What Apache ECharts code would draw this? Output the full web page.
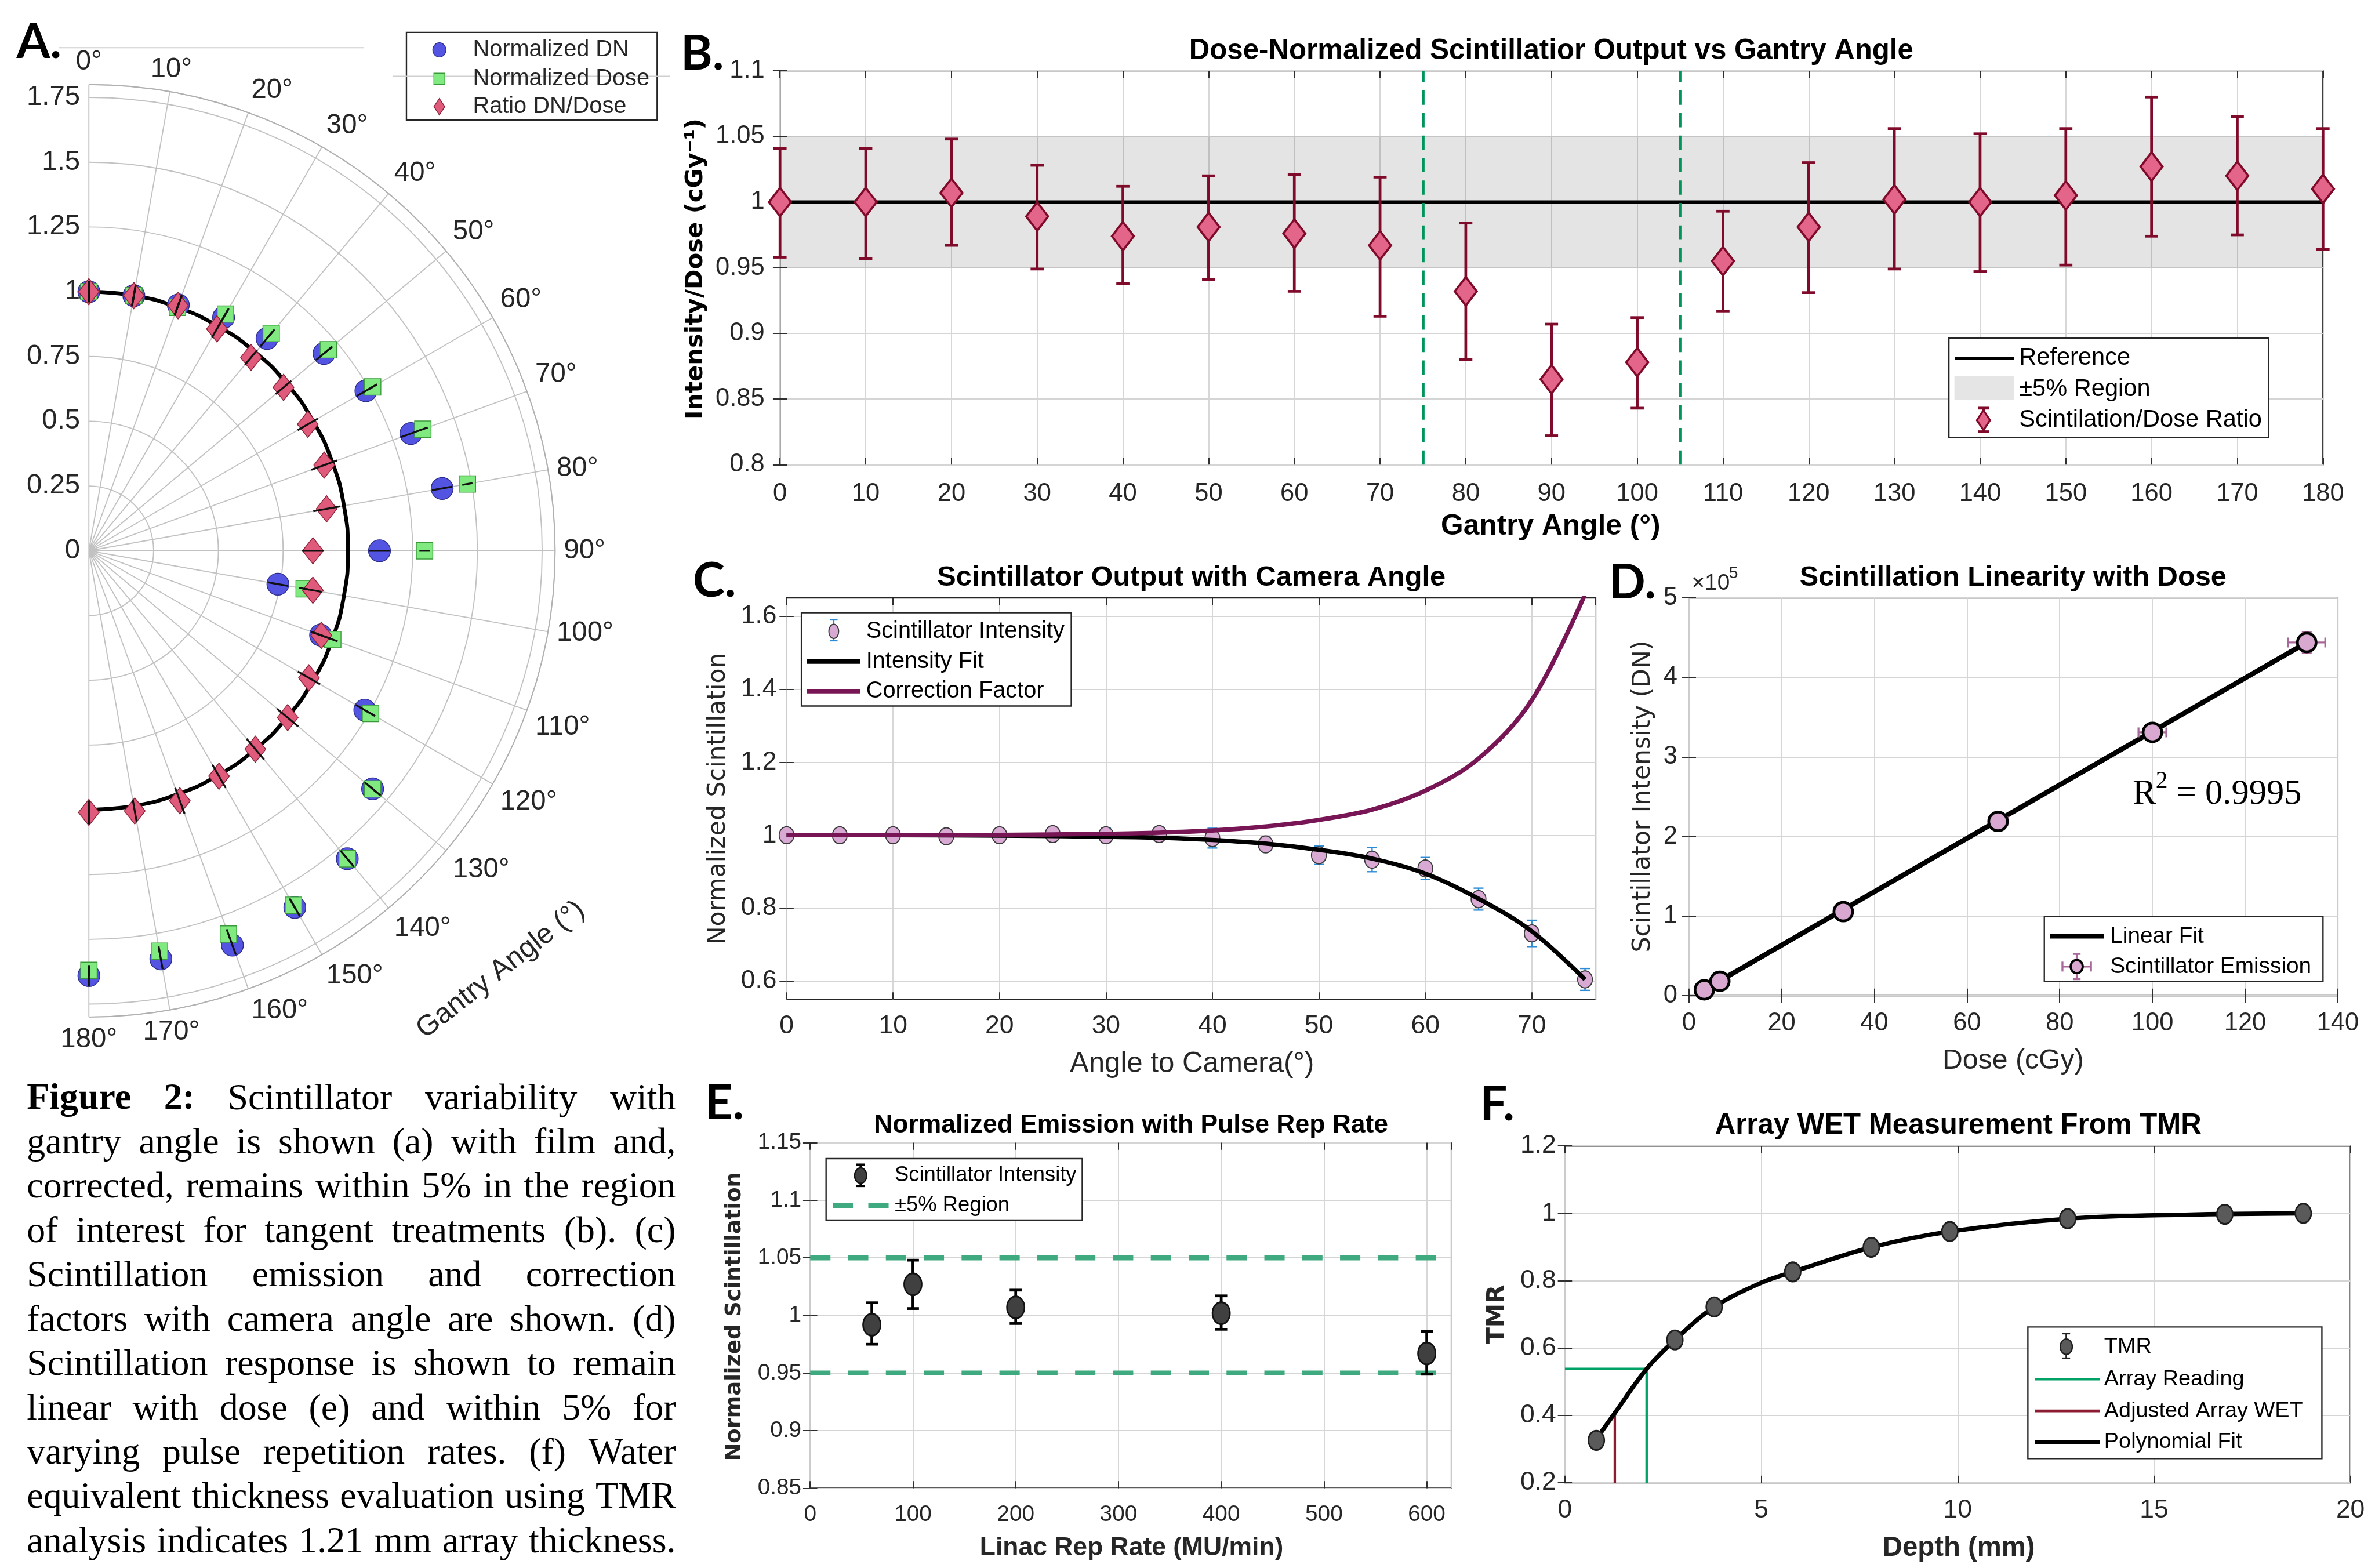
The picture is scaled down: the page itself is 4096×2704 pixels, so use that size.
<!DOCTYPE html>
<html>
<head>
<meta charset="utf-8">
<title>Figure 2</title>
<script src="https://cdn.jsdelivr.net/npm/echarts@6/dist/echarts.min.js"></script>
<style>
  html, body { margin: 0; padding: 0; background: #fff; }
  #fig { width: 4096px; height: 2704px; }
</style>
</head>
<body>
<div id="fig"></div>
<script>
// reference is 4329 x 2858, page is 4096 x 2704 -> everything scaled by S
const S = 0.946;
const s = v => v * S;
const FONT = '"Liberation Sans", Arial, sans-serif';
const VFONT = '"DejaVu Sans", Verdana, sans-serif';
const SERIF = '"Liberation Serif", "Times New Roman", serif';
const INK = '#262626';

// ---- A. polar, gantry angle
const gantryAngles = [0, 10, 20, 30, 40, 50, 60, 70, 80, 90, 100, 110, 120, 130, 140, 150, 160, 170, 180];
const normalizedDN = [1.0, 1.0, 1.01, 1.04, 1.07, 1.185, 1.235, 1.323, 1.385, 1.122, 0.741, 0.952, 1.23, 1.43, 1.552, 1.59, 1.62, 1.60, 1.64];
const normalizedDose = [1.0, 1.0, 1.0, 1.055, 1.095, 1.207, 1.265, 1.372, 1.484, 1.296, 0.844, 1.002, 1.256, 1.43, 1.552, 1.58, 1.575, 1.57, 1.62];
const polarErr = 0.04;
const unityRadius = 1;

// ---- B. ratio vs gantry angle (same ratio as in A)
const ratioDNDose = [1.0, 1.0, 1.007, 0.989, 0.974, 0.981, 0.976, 0.967, 0.932, 0.865, 0.878, 0.955, 0.981, 1.002, 1.0, 1.005, 1.027, 1.020, 1.010];
const ratioLow = [0.958, 0.957, 0.967, 0.949, 0.938, 0.941, 0.932, 0.913, 0.880, 0.822, 0.843, 0.917, 0.931, 0.949, 0.947, 0.952, 0.974, 0.975, 0.964];
const ratioHigh = [1.041, 1.041, 1.048, 1.028, 1.012, 1.020, 1.021, 1.019, 0.984, 0.907, 0.912, 0.993, 1.030, 1.056, 1.052, 1.056, 1.080, 1.065, 1.056];
const refAngle = [0, 180];
const refLevel = [1, 1];
const bandB = [0.95, 1.05];
const tangentRegion = [75, 105];

// ---- C. camera angle
const cameraAngles = [0, 5, 10, 15, 20, 25, 30, 35, 40, 45, 50, 55, 60, 65, 70, 75];
const scintIntensity = [1.0, 1.0, 1.0, 0.997, 1.0, 1.003, 1.0, 1.003, 0.992, 0.975, 0.945, 0.933, 0.909, 0.825, 0.731, 0.605];
const scintErr = [0.017, 0.017, 0.015, 0.017, 0.015, 0.017, 0.02, 0.017, 0.027, 0.02, 0.025, 0.033, 0.03, 0.03, 0.036, 0.03];
const fitAngles = [0, 10, 20, 30, 35, 40, 45, 50, 55, 60, 65, 70, 75];
const intensityFit = [1.0, 1.0, 0.999, 0.996, 0.993, 0.987, 0.977, 0.960, 0.936, 0.895, 0.826, 0.737, 0.605];
const correctionFactor = [1.0, 1.0, 1.001, 1.004, 1.007, 1.013, 1.024, 1.042, 1.07, 1.122, 1.21, 1.37, 1.66];
const cTicks = [0.6, 0.8, 1, 1.2, 1.4, 1.6];

// ---- D. linearity with dose
const doseCGy = [3.33, 6.67, 33.3, 66.7, 100, 133.3];
const emissionDN = [7300, 18000, 105600, 219000, 331000, 444000];
const doseErr = [0.3, 0.5, 1.2, 2.0, 3.0, 4.0];
const emissionErr = [1500, 2500, 4000, 6000, 9000, 13000];
const fitDose = [3.33, 133.3];
const fitDN = [7500, 444000];

// ---- E. pulse rep rate
const repRates = [60, 100, 200, 400, 600];
const repIntensity = [0.992, 1.027, 1.007, 1.002, 0.967];
const repLow = [0.975, 1.006, 0.993, 0.988, 0.949];
const repHigh = [1.011, 1.048, 1.022, 1.017, 0.986];
const regionX = [0, 624];
const regionBounds = [0.95, 1.05];

// ---- F. TMR
const depthMM = [0.8, 2.8, 3.8, 5.8, 7.8, 9.8, 12.8, 16.8, 18.8];
const tmr = [0.326, 0.624, 0.722, 0.826, 0.899, 0.946, 0.984, 0.997, 1.0];
const tmrErr = 0.012;
const fitDepth = [0.8, 1.27, 2.08, 2.8, 3.8, 5.0, 5.8, 7.8, 9.8, 12.8, 15.8, 18.8];
const fitTMR = [0.33, 0.407, 0.538, 0.624, 0.722, 0.794, 0.826, 0.899, 0.946, 0.984, 0.996, 1.0];
const readingDepth = [0, 2.08, 2.08];
const readingTMR = [0.538, 0.538, 0.2];
const adjustedDepth = [1.27, 1.27];
const adjustedTMR = [0.407, 0.2];

// ---- caption
const captionLines = [
  'Figure 2: Scintillator variability with',
  'gantry angle is shown (a) with film and,',
  'corrected, remains within 5% in the region',
  'of interest for tangent treatments (b). (c)',
  'Scintillation emission and correction',
  'factors with camera angle are shown. (d)',
  'Scintillation response is shown to remain',
  'linear with dose (e) and within 5% for',
  'varying pulse repetition rates. (f) Water',
  'equivalent thickness evaluation using TMR',
  'analysis indicates 1.21 mm array thickness.'
];
const captionBoldWords = 2;

// panel boxes in reference pixels
const panels = [
  { l: 1422, t: 129, r: 4235, b: 847,
    x: { min: 0, max: 180, interval: 10, fs: 46, m: 30 },
    y: { min: 0.8, max: 1.1, interval: 0.05, fs: 46, m: 28 } },
  { l: 1434, t: 1090, r: 2909, b: 1822,
    x: { min: 0, max: 76, interval: 10, fs: 47, m: 26, hideMax: true },
    y: { min: 0.55, max: 1.65, custom: cTicks, fs: 47, m: 18 } },
  { l: 3079, t: 1090, r: 4262, b: 1815,
    x: { min: 0, max: 140, interval: 20, fs: 46, m: 27 },
    y: { min: 0, max: 500000, interval: 100000, fs: 46, m: 21, fmt: v => String(v / 100000) } },
  { l: 1477, t: 2083, r: 2646, b: 2713,
    x: { min: 0, max: 624, interval: 100, fs: 41, m: 28, hideMax: true },
    y: { min: 0.85, max: 1.15, interval: 0.05, fs: 41, m: 16 } },
  { l: 2853, t: 2089, r: 4285, b: 2703,
    x: { min: 0, max: 20, interval: 5, fs: 47, m: 27 },
    y: { min: 0.2, max: 1.2, interval: 0.2, fs: 47, m: 16 } }
];

const grids = panels.map(p => ({
  left: s(p.l), top: s(p.t), width: s(p.r - p.l), height: s(p.b - p.t),
  show: true, borderColor: INK, borderWidth: s(2.5), backgroundColor: 'transparent'
}));

function axisPair(gi, a, isX) {
  const tick = { show: true, inside: true, length: s(13), lineStyle: { color: INK, width: s(2) } };
  if (a.custom) tick.customValues = a.custom;
  const base = { gridIndex: gi, type: 'value', min: a.min, max: a.max, axisLine: { show: false } };
  if (a.interval) base.interval = a.interval;
  const label = { fontSize: s(a.fs), fontFamily: FONT, color: INK, margin: s(a.m) };
  if (a.hideMax) label.showMaxLabel = false;
  if (a.fmt) label.formatter = a.fmt;
  if (a.custom) label.customValues = a.custom;
  const main = Object.assign({}, base, {
    position: isX ? 'bottom' : 'left',
    axisTick: tick, axisLabel: label,
    splitLine: { show: true, lineStyle: { color: '#d5d5d5', width: s(2) } }
  });
  const mirror = Object.assign({}, base, {
    position: isX ? 'top' : 'right',
    axisTick: tick, axisLabel: { show: false }, splitLine: { show: false }
  });
  return [main, mirror];
}
const xAxes = [], yAxes = [];
panels.forEach((p, gi) => {
  xAxes.push(...axisPair(gi, p.x, true));
  yAxes.push(...axisPair(gi, p.y, false));
});

// error bar drawing helpers
function seg(x1, y1, x2, y2, color, lw) {
  return { type: 'line', shape: { x1, y1, x2, y2 }, style: { stroke: color, lineWidth: lw } };
}
function vErrItem(color, lw, cap) {
  return function (params, api) {
    const x = api.value(0);
    const lo = api.coord([x, api.value(1)]);
    const hi = api.coord([x, api.value(2)]);
    const c = s(cap) / 2, w = s(lw);
    return { type: 'group', children: [
      seg(lo[0], lo[1], hi[0], hi[1], color, w),
      seg(lo[0] - c, lo[1], lo[0] + c, lo[1], color, w),
      seg(hi[0] - c, hi[1], hi[0] + c, hi[1], color, w)
    ] };
  };
}
function xyErrItem(color, lw, cap) {
  return function (params, api) {
    const x = api.value(0), y = api.value(1), ex = api.value(2), ey = api.value(3);
    const l = api.coord([x - ex, y]), r = api.coord([x + ex, y]);
    const b = api.coord([x, y - ey]), t = api.coord([x, y + ey]);
    const c = s(cap) / 2, w = s(lw);
    return { type: 'group', children: [
      seg(l[0], l[1], r[0], r[1], color, w),
      seg(l[0], l[1] - c, l[0], l[1] + c, color, w),
      seg(r[0], r[1] - c, r[0], r[1] + c, color, w),
      seg(b[0], b[1], t[0], t[1], color, w),
      seg(b[0] - c, b[1], b[0] + c, b[1], color, w),
      seg(t[0] - c, t[1], t[0] + c, t[1], color, w)
    ] };
  };
}
function polarErrItem(params, api) {
  const r = api.value(0), a = api.value(1), e = api.value(2);
  const p1 = api.coord([r - e, a]), p2 = api.coord([r + e, a]);
  return seg(p1[0], p1[1], p2[0], p2[1], '#111', s(3.5));
}
const pair = (xs, ys) => xs.map((x, i) => [x, ys[i]]);

const series = [
  // ---- A
  { type: 'line', coordinateSystem: 'polar', data: gantryAngles.map(a => [unityRadius, a]),
    smooth: true, symbol: 'none', lineStyle: { color: '#000', width: s(7) }, z: 2 },
  { type: 'scatter', coordinateSystem: 'polar', name: 'Normalized DN',
    data: gantryAngles.map((a, i) => [normalizedDN[i], a]), symbol: 'circle', symbolSize: s(40),
    itemStyle: { color: '#5454e2', borderColor: '#2c2c8c', borderWidth: s(1.5), opacity: 1 }, z: 3 },
  { type: 'scatter', coordinateSystem: 'polar', name: 'Normalized Dose',
    data: gantryAngles.map((a, i) => [normalizedDose[i], a]), symbol: 'rect', symbolSize: s(30),
    itemStyle: { color: '#80ea80', borderColor: '#3a9a3a', borderWidth: s(1.5), opacity: 1 }, z: 4 },
  { type: 'scatter', coordinateSystem: 'polar', name: 'Ratio DN/Dose',
    data: gantryAngles.map((a, i) => [ratioDNDose[i], a]), symbol: 'diamond', symbolSize: [s(38), s(48)],
    itemStyle: { color: '#e05a7c', borderColor: '#8b2035', borderWidth: s(1.5), opacity: 1 }, z: 5 },
  { type: 'custom', coordinateSystem: 'polar', renderItem: polarErrItem, z: 6,
    data: gantryAngles.map((a, i) => [normalizedDN[i], a, polarErr]) },
  { type: 'custom', coordinateSystem: 'polar', renderItem: polarErrItem, z: 6,
    data: gantryAngles.map((a, i) => [normalizedDose[i], a, polarErr / 2]) },
  { type: 'custom', coordinateSystem: 'polar', renderItem: polarErrItem, z: 6,
    data: gantryAngles.map((a, i) => [ratioDNDose[i], a, (ratioHigh[i] - ratioLow[i]) / 2]) },

  // ---- B
  { type: 'line', xAxisIndex: 0, yAxisIndex: 0, name: 'Reference', data: pair(refAngle, refLevel),
    symbol: 'none', lineStyle: { color: '#000', width: s(6) }, z: 3,
    markArea: { silent: true, itemStyle: { color: 'rgba(0,0,0,0.105)' },
      data: [[{ yAxis: bandB[0] }, { yAxis: bandB[1] }]] },
    markLine: { silent: true, symbol: 'none', label: { show: false },
      lineStyle: { color: '#00955a', width: s(5), type: [s(26), s(15)] },
      data: tangentRegion.map(v => ({ xAxis: v })) } },
  { type: 'custom', xAxisIndex: 0, yAxisIndex: 0, z: 4, encode: { x: 0, y: [1, 2] },
    renderItem: vErrItem('#800a2a', 5, 24),
    data: gantryAngles.map((a, i) => [a, ratioLow[i], ratioHigh[i]]) },
  { type: 'scatter', xAxisIndex: 0, yAxisIndex: 0, name: 'Scintilation/Dose Ratio',
    data: pair(gantryAngles, ratioDNDose), symbol: 'diamond', symbolSize: [s(40), s(52)],
    itemStyle: { color: '#e3668a', borderColor: '#800a2a', borderWidth: s(4), opacity: 1 }, z: 5 },

  // ---- C
  { type: 'custom', xAxisIndex: 2, yAxisIndex: 2, z: 3, encode: { x: 0, y: [1, 2] },
    renderItem: vErrItem('#2a8bd6', 2.5, 18),
    data: cameraAngles.map((a, i) => [a, scintIntensity[i] - scintErr[i], scintIntensity[i] + scintErr[i]]) },
  { type: 'scatter', xAxisIndex: 2, yAxisIndex: 2, name: 'Scintillator Intensity',
    data: pair(cameraAngles, scintIntensity), symbol: 'circle', symbolSize: [s(27), s(31)],
    itemStyle: { color: '#d8a9d2', borderColor: '#3a3a3a', borderWidth: s(2), opacity: 1 }, z: 4 },
  { type: 'line', xAxisIndex: 2, yAxisIndex: 2, name: 'Intensity Fit', data: pair(fitAngles, intensityFit),
    smooth: 0.35, symbol: 'none', lineStyle: { color: '#000', width: s(8) }, z: 5 },
  { type: 'line', xAxisIndex: 2, yAxisIndex: 2, name: 'Correction Factor', data: pair(fitAngles, correctionFactor),
    smooth: 0.35, symbol: 'none', lineStyle: { color: '#781655', width: s(8) }, z: 6 },

  // ---- D
  { type: 'line', xAxisIndex: 4, yAxisIndex: 4, name: 'Linear Fit', data: pair(fitDose, fitDN),
    symbol: 'none', lineStyle: { color: '#000', width: s(9) }, z: 3 },
  { type: 'custom', xAxisIndex: 4, yAxisIndex: 4, z: 4, encode: { x: 0, y: 1 },
    renderItem: xyErrItem('#a8689a', 3.5, 18),
    data: doseCGy.map((d, i) => [d, emissionDN[i], doseErr[i], emissionErr[i]]) },
  { type: 'scatter', xAxisIndex: 4, yAxisIndex: 4, name: 'Scintillator Emission',
    data: pair(doseCGy, emissionDN), symbol: 'circle', symbolSize: s(34),
    itemStyle: { color: '#d8a8d0', borderColor: '#000', borderWidth: s(5), opacity: 1 }, z: 5 },

  // ---- E
  ...regionBounds.map(v => ({ type: 'line', xAxisIndex: 6, yAxisIndex: 6, data: regionX.map(x => [x, v]),
    symbol: 'none', lineStyle: { color: '#3fa97f', width: s(9), type: [s(37), s(32)] }, z: 2 })),
  { type: 'custom', xAxisIndex: 6, yAxisIndex: 6, z: 3, encode: { x: 0, y: [1, 2] },
    renderItem: vErrItem('#000', 5, 22),
    data: repRates.map((r, i) => [r, repLow[i], repHigh[i]]) },
  { type: 'scatter', xAxisIndex: 6, yAxisIndex: 6, name: 'Scintillator Intensity',
    data: pair(repRates, repIntensity), symbol: 'circle', symbolSize: [s(32), s(40)],
    itemStyle: { color: '#404040', borderColor: '#111', borderWidth: s(3), opacity: 1 }, z: 4 },

  // ---- F
  { type: 'line', xAxisIndex: 8, yAxisIndex: 8, name: 'Array Reading', data: pair(readingDepth, readingTMR),
    symbol: 'none', lineStyle: { color: '#00a266', width: s(4.5) }, z: 2 },
  { type: 'line', xAxisIndex: 8, yAxisIndex: 8, name: 'Adjusted Array WET', data: pair(adjustedDepth, adjustedTMR),
    symbol: 'none', lineStyle: { color: '#8c1c32', width: s(4.5) }, z: 2 },
  { type: 'line', xAxisIndex: 8, yAxisIndex: 8, name: 'Polynomial Fit', data: pair(fitDepth, fitTMR),
    smooth: 0.35, symbol: 'none', lineStyle: { color: '#000', width: s(8) }, z: 3 },
  { type: 'custom', xAxisIndex: 8, yAxisIndex: 8, z: 4, encode: { x: 0, y: [1, 2] },
    renderItem: vErrItem('#222', 3, 14),
    data: depthMM.map((d, i) => [d, tmr[i] - tmrErr, tmr[i] + tmrErr]) },
  { type: 'scatter', xAxisIndex: 8, yAxisIndex: 8, name: 'TMR',
    data: pair(depthMM, tmr), symbol: 'circle', symbolSize: [s(29), s(35)],
    itemStyle: { color: '#5a5a5a', borderColor: '#1e1e1e', borderWidth: s(3), opacity: 1 }, z: 5 }
];

// ---------- graphic: titles, axis names, legends, caption
const G = [];
function txt(x, y, text, size, o) {
  o = o || {};
  const align = o.align || 'center', va = o.va || 'middle';
  G.push({ type: 'text', x: s(x), y: s(y), rotation: o.rot || 0, z: 120,
    style: { text, fontSize: s(size), fontFamily: o.family || FONT, fontWeight: o.weight || 'normal',
      fill: o.color || '#000', align, verticalAlign: va, textAlign: align, textVerticalAlign: va } });
}
function gline(x1, y1, x2, y2, color, w, dash) {
  G.push({ type: 'line', z: 110, shape: { x1: s(x1), y1: s(y1), x2: s(x2), y2: s(y2) },
    style: { stroke: color, lineWidth: s(w), lineDash: dash ? dash.map(s) : null } });
}
function box(x1, y1, x2, y2) {
  G.push({ type: 'rect', z: 105, shape: { x: s(x1), y: s(y1), width: s(x2 - x1), height: s(y2 - y1) },
    style: { fill: '#fff', stroke: INK, lineWidth: s(2.5) } });
}
function rectFill(x1, y1, x2, y2, fill, stroke, w) {
  G.push({ type: 'rect', z: 112, shape: { x: s(x1), y: s(y1), width: s(x2 - x1), height: s(y2 - y1) },
    style: { fill, stroke: stroke || null, lineWidth: s(w || 0) } });
}
function ellipse(cx, cy, rx, ry, fill, stroke, w) {
  G.push({ type: 'ellipse', z: 113, shape: { cx: s(cx), cy: s(cy), rx: s(rx), ry: s(ry) },
    style: { fill, stroke, lineWidth: s(w) } });
}
function diamond(cx, cy, w, h, fill, stroke, lw) {
  G.push({ type: 'polygon', z: 113,
    shape: { points: [[s(cx), s(cy - h / 2)], [s(cx + w / 2), s(cy)], [s(cx), s(cy + h / 2)], [s(cx - w / 2), s(cy)]] },
    style: { fill, stroke, lineWidth: s(lw) } });
}
function errIcon(x, y1, y2, color, w, cap) {
  gline(x, y1, x, y2, color, w);
  gline(x - cap / 2, y1, x + cap / 2, y1, color, w);
  gline(x - cap / 2, y2, x + cap / 2, y2, color, w);
}

// panel letters
[['A.', 30, 77], ['B.', 1241, 98], ['C.', 1263, 1059], ['D.', 2933, 1063], ['E.', 1285, 2012], ['F.', 2698, 2014]]
  .forEach(([t, x, y]) => txt(x, y, t, 88, { align: 'left', family: 'Lato, "Open Sans", sans-serif', weight: 'bold' }));

// titles
txt(2828, 94, 'Dose-Normalized Scintillatior Output vs Gantry Angle', 52, { weight: 'bold' });
txt(2172, 1053, 'Scintillator Output with Camera Angle', 51.5, { weight: 'bold' });
txt(3670, 1053, 'Scintillation Linearity with Dose', 51.5, { weight: 'bold' });
txt(2062, 2052, 'Normalized Emission with Pulse Rep Rate', 47, { weight: 'bold' });
txt(3570, 2052, 'Array WET Measurement From TMR', 52, { weight: 'bold' });

// axis names
const UP = Math.PI / 2;
txt(2827, 960, 'Gantry Angle (°)', 52.5, { weight: 'bold' });
txt(1269, 490, 'Intensity/Dose (cGy⁻¹)', 44, { weight: 'bold', family: VFONT, rot: UP });
txt(2173, 1940, 'Angle to Camera(°)', 52, { color: INK });
txt(1310, 1456, 'Normalized Scintillation', 45, { family: VFONT, rot: UP, color: INK });
txt(3670, 1934, 'Dose (cGy)', 51, { color: INK });
txt(2996, 1452, 'Scintillator Intensity (DN)', 45, { family: VFONT, rot: UP, color: INK });
txt(3084, 1064, '×10', 41, { align: 'left', color: INK });
txt(3152, 1046, '5', 30, { align: 'left', color: INK });
txt(2063, 2822, 'Linac Rep Rate (MU/min)', 47, { weight: 'bold', color: INK });
txt(1340, 2400, 'Normalized Scintillation', 39, { weight: 'bold', family: VFONT, rot: UP, color: INK });
txt(3571, 2822, 'Depth (mm)', 50, { weight: 'bold', color: INK });
txt(2730, 2396, 'TMR', 44, { weight: 'bold', family: VFONT, rot: UP, color: INK });
txt(913, 1768, 'Gantry Angle (°)', 52, { rot: 38 * Math.PI / 180, color: INK });
txt(3888, 1448, 'R', 64, { align: 'left', family: SERIF });
txt(3930, 1425, '2', 44, { align: 'left', family: SERIF });
txt(3968, 1448, '= 0.9995', 64, { align: 'left', family: SERIF });

// faint crop lines at top of A
gline(107, 87, 664, 87, '#cfcfcf', 2);
gline(716, 139, 1222, 139, '#cfcfcf', 2);

// legend A
box(741, 59, 1198, 219);
ellipse(801, 91, 12, 13, '#5454e2', '#2c2c8c', 1.5);
rectFill(791, 133.5, 811, 153.5, '#80ea80', '#3a9a3a', 1.5);
diamond(801, 194.5, 20, 30, '#e05a7c', '#8b2035', 1.5);
txt(862, 91, 'Normalized DN', 42, { align: 'left', color: INK });
txt(862, 143.5, 'Normalized Dose', 42, { align: 'left', color: INK });
txt(862, 194.5, 'Ratio DN/Dose', 42, { align: 'left', color: INK });

// legend B
box(3553, 616, 4136, 798);
gline(3564, 653, 3672, 653, '#000', 6);
rectFill(3563, 686, 3672, 729, '#e5e5e5');
errIcon(3616, 744, 787, '#800a2a', 5, 20);
diamond(3616, 766, 24, 36, '#e3668a', '#800a2a', 3.5);
txt(3681, 653, 'Reference', 44, { align: 'left' });
txt(3681, 710, '±5% Region', 44, { align: 'left' });
txt(3681, 766, 'Scintilation/Dose Ratio', 44, { align: 'left' });

// legend C
box(1461, 1117, 1953, 1287);
errIcon(1520, 1130, 1168, '#2a8bd6', 2.5, 14);
ellipse(1520, 1151, 9, 13, '#d8a9d2', '#3a3a3a', 2);
gline(1471, 1206, 1568, 1206, '#000', 8);
gline(1471, 1260, 1568, 1260, '#781655', 8);
txt(1579, 1151, 'Scintillator Intensity', 42, { align: 'left' });
txt(1579, 1206, 'Intensity Fit', 42, { align: 'left' });
txt(1579, 1260, 'Correction Factor', 42, { align: 'left' });

// legend D
box(3727, 1671, 4235, 1789);
gline(3737, 1707, 3836, 1707, '#000', 8);
errIcon(3786, 1739, 1785, '#a8689a', 3.5, 14);
gline(3760, 1762, 3812, 1762, '#a8689a', 3.5);
gline(3760, 1753, 3760, 1771, '#a8689a', 3.5);
gline(3812, 1753, 3812, 1771, '#a8689a', 3.5);
ellipse(3786, 1762, 11, 12, '#d8a8d0', '#000', 4);
txt(3847, 1707, 'Linear Fit', 41, { align: 'left' });
txt(3847, 1762, 'Scintillator Emission', 41, { align: 'left' });

// legend E
box(1506, 2112, 1973, 2225);
errIcon(1569, 2123, 2162, '#000', 4, 16);
ellipse(1569, 2143, 11, 14, '#404040', '#111', 2.5);
gline(1518, 2198, 1620, 2198, '#3fa97f', 9, [37, 28]);
txt(1631, 2143, 'Scintillator Intensity', 38.5, { align: 'left' });
txt(1631, 2198, '±5% Region', 38.5, { align: 'left' });

// legend F
box(3697, 2419, 4233, 2659);
errIcon(3767, 2431, 2476, '#222', 3, 14);
ellipse(3767, 2455, 11, 14, '#5a5a5a', '#1e1e1e', 2.5);
gline(3710, 2514, 3828, 2514, '#00a266', 5);
gline(3710, 2572, 3828, 2572, '#8c1c32', 5);
gline(3710, 2629, 3828, 2629, '#000', 8);
txt(3836, 2455, 'TMR', 40, { align: 'left' });
txt(3836, 2514, 'Array Reading', 40, { align: 'left' });
txt(3836, 2572, 'Adjusted Array WET', 40, { align: 'left' });
txt(3836, 2629, 'Polynomial Fit', 40, { align: 'left' });

// justified caption, one word at a time
const CAP_SIZE = 67.5, CAP_L = 49, CAP_R = 1232, CAP_Y0 = 2004, CAP_DY = 80.8;
const mctx = document.createElement('canvas').getContext('2d');
captionLines.forEach((line, li) => {
  const words = line.split(' ');
  const bold = words.map((w, wi) => li === 0 && wi < captionBoldWords);
  const widths = words.map((w, wi) => {
    mctx.font = (bold[wi] ? 'bold ' : '') + s(CAP_SIZE) + 'px "Liberation Serif"';
    return mctx.measureText(w).width;
  });
  const total = widths.reduce((a, b) => a + b, 0);
  const gap = (s(CAP_R - CAP_L) - total) / (words.length - 1);
  let x = s(CAP_L);
  words.forEach((w, wi) => {
    G.push({ type: 'text', x, y: s(CAP_Y0 + li * CAP_DY), z: 120,
      style: { text: w, fontSize: s(CAP_SIZE), fontFamily: SERIF, fontWeight: bold[wi] ? 'bold' : 'normal',
        fill: '#000', align: 'left', verticalAlign: 'middle', textAlign: 'left', textVerticalAlign: 'middle' } });
    x += widths[wi] + gap;
  });
});

const option = {
  animation: false,
  backgroundColor: '#ffffff',
  polar: { center: [s(162), s(1004)], radius: s(850) },
  angleAxis: {
    type: 'value', min: 0, max: 180, interval: 10,
    startAngle: 90, endAngle: -90, clockwise: true,
    axisLine: { show: true, lineStyle: { color: '#b0b0b0', width: s(2) } },
    axisTick: { show: false },
    axisLabel: { formatter: '{value}°', fontSize: s(50), fontFamily: FONT, color: INK, margin: s(16) },
    splitLine: { show: true, lineStyle: { color: '#c2c2c2', width: s(2) } }
  },
  radiusAxis: {
    type: 'value', min: 0, max: 1.8, interval: 0.25,
    axisLine: { show: false }, axisTick: { show: false },
    axisLabel: { fontSize: s(50), fontFamily: FONT, color: INK, margin: s(16),
      formatter: v => (v > 1.76 ? '' : String(v)) },
    splitLine: { show: true, lineStyle: { color: '#c2c2c2', width: s(2) } }
  },
  grid: grids,
  xAxis: xAxes,
  yAxis: yAxes,
  series: series,
  graphic: G
};

const chart = echarts.init(document.getElementById('fig'), null, { renderer: 'canvas' });
chart.setOption(option);
</script>
</body>
</html>
